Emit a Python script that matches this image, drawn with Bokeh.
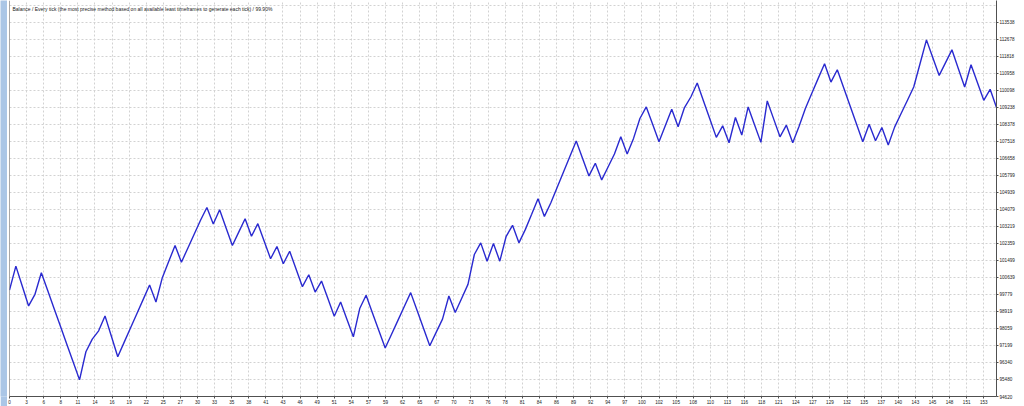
from bokeh.plotting import figure
from bokeh.layouts import row
from bokeh.models import (Range1d, FixedTicker, CustomJSTickFormatter,
                          NumeralTickFormatter, Span, Label)
from bokeh.embed import file_html
from bokeh.resources import INLINE

title_text = ("Balance / Every tick (the most precise method based on all available "
              "least timeframes to generate each tick) / 99.90%")

balance = [
    100000, 101208, 100202, 99196, 99785, 100876, 99973, 99071, 98168, 97265,
    96363, 95460, 96883, 97522, 97939, 98693, 97663, 96632, 97356, 98080,
    98804, 99528, 100252, 99398, 100625, 101444, 102249, 101409, 102113, 102822,
    103526, 104175, 103340, 104059, 103154, 102249, 102928, 103607, 102717, 103355,
    102465, 101580, 102199, 101329, 101962, 101067, 100172, 100775, 99900, 100454,
    99569, 98678, 99398, 98517, 97637, 99066, 99734, 98844, 97959, 97069,
    97768, 98467, 99171, 99870, 98975, 98080, 97185, 97859, 98528, 99699,
    98864, 99574, 100288, 101796, 102385, 101459, 102350, 101459, 102717, 103270,
    102385, 103054, 103833, 104613, 103722, 104396, 105181, 105965, 106745, 107529,
    106649, 105769, 106408, 105568, 106222, 106876, 107746, 106876, 107665, 108671,
    109254, 108374, 107494, 108314, 109139, 108249, 109224, 109757, 110461, 109546,
    108631, 107716, 108299, 107444, 108721, 107831, 109254, 108359, 107464, 109556,
    108651, 107746, 108334, 107444, 108284, 109189, 109943, 110698, 111437, 110512,
    111135, 110225, 109315, 108405, 107494, 108384, 107545, 108218, 107328, 108234,
    108907, 109581, 110260, 111452, 112644, 111744, 110849, 111492, 112141, 111201,
    110260, 111387, 110487, 109591, 110144, 109224,
]
trades = list(range(len(balance)))

y_tick_values = [94620, 95480, 96340, 97199, 98059, 98919, 99779, 100639, 101499,
                 102359, 103219, 104079, 104939, 105799, 106658, 107518, 108378,
                 109238, 110098, 110958, 111818, 112678, 113538]

x_tick_labels = [0, 3, 6, 8, 11, 14, 16, 19, 22, 25, 27, 30, 33, 35, 38, 41, 43, 46,
                 49, 51, 54, 57, 59, 62, 65, 67, 70, 73, 76, 78, 81, 84, 86, 89, 92,
                 94, 97, 100, 102, 105, 108, 110, 113, 116, 118, 121, 124, 127, 129,
                 132, 135, 137, 140, 143, 145, 148, 151, 153]

FONT = "Liberation Sans"
AXIS_COL = "#505050"
GRID_COL = "#d2d2d2"

W, H = 1024, 406
STRIP_W = 7
B_LEFT, B_RIGHT, B_TOP, B_BOTTOM = 9 - STRIP_W, 28, 0, 8
frame_h = H - B_TOP - B_BOTTOM

# window side strip (left edge of the terminal window)
strip = figure(width=STRIP_W, height=H, output_backend="svg", toolbar_location=None,
               min_border=0)
strip.axis.visible = False
strip.grid.visible = False
strip.outline_line_color = None
strip.background_fill_color = "#aac6e6"
strip.border_fill_color = "#aac6e6"

# y range: bottom at the lowest labelled value, ~17.1 px per label step
y_step = (y_tick_values[-1] - y_tick_values[0]) / (len(y_tick_values) - 1)
y_top = y_tick_values[0] + frame_h * y_step / 17.1

p = figure(width=W - STRIP_W, height=H, output_backend="svg", toolbar_location=None,
           x_range=Range1d(trades[0], trades[-1]),
           y_range=Range1d(y_tick_values[0], y_top),
           y_axis_location="right",
           min_border_left=B_LEFT, min_border_right=B_RIGHT,
           min_border_top=B_TOP, min_border_bottom=B_BOTTOM)
p.outline_line_color = None
p.background_fill_color = "white"
p.border_fill_color = "white"

# evenly spaced vertical grid, labelled with trade numbers
x_step = x_tick_labels[-1] / (len(x_tick_labels) - 1)
x_ticks = [k * x_step for k in range(len(x_tick_labels))]

p.xaxis.ticker = FixedTicker(ticks=x_ticks)
p.xaxis.formatter = CustomJSTickFormatter(
    args=dict(labels=[str(v) for v in x_tick_labels], step=x_step),
    code="const i = Math.round(tick / step); return (i >= 0 && i < labels.length) ? labels[i] : '';")
p.yaxis.ticker = FixedTicker(ticks=y_tick_values)
p.yaxis.formatter = NumeralTickFormatter(format="0")

for ax in (p.xaxis[0], p.yaxis[0]):
    ax.axis_line_color = AXIS_COL
    ax.axis_line_width = 1
    ax.major_tick_line_color = AXIS_COL
    ax.major_tick_out = 2
    ax.major_tick_in = 0
    ax.minor_tick_line_color = None
    ax.major_label_text_font = FONT
    ax.major_label_text_font_size = "4.6px"
    ax.major_label_text_color = "#222222"
    ax.major_label_standoff = 1

p.xgrid.ticker = FixedTicker(ticks=x_ticks)
p.ygrid.ticker = FixedTicker(ticks=y_tick_values + [y_tick_values[-1] + y_step])
for g in (p.xgrid[0], p.ygrid[0]):
    g.grid_line_color = GRID_COL
    g.grid_line_dash = "2 2"
    g.grid_line_width = 1

p.add_layout(Span(location=trades[0], dimension="height",
                  line_color=AXIS_COL, line_width=1))

p.line(trades, balance, line_color="#2a2ad0", line_width=1.4)

p.add_layout(Label(x=trades[0], y=y_top, x_offset=3, y_offset=-5,
                   text=title_text, text_baseline="top",
                   text_font=FONT, text_font_size="5px", text_color="#222222"))

layout = row(strip, p, spacing=0)
open("out.html", "w").write(file_html(layout, INLINE))
